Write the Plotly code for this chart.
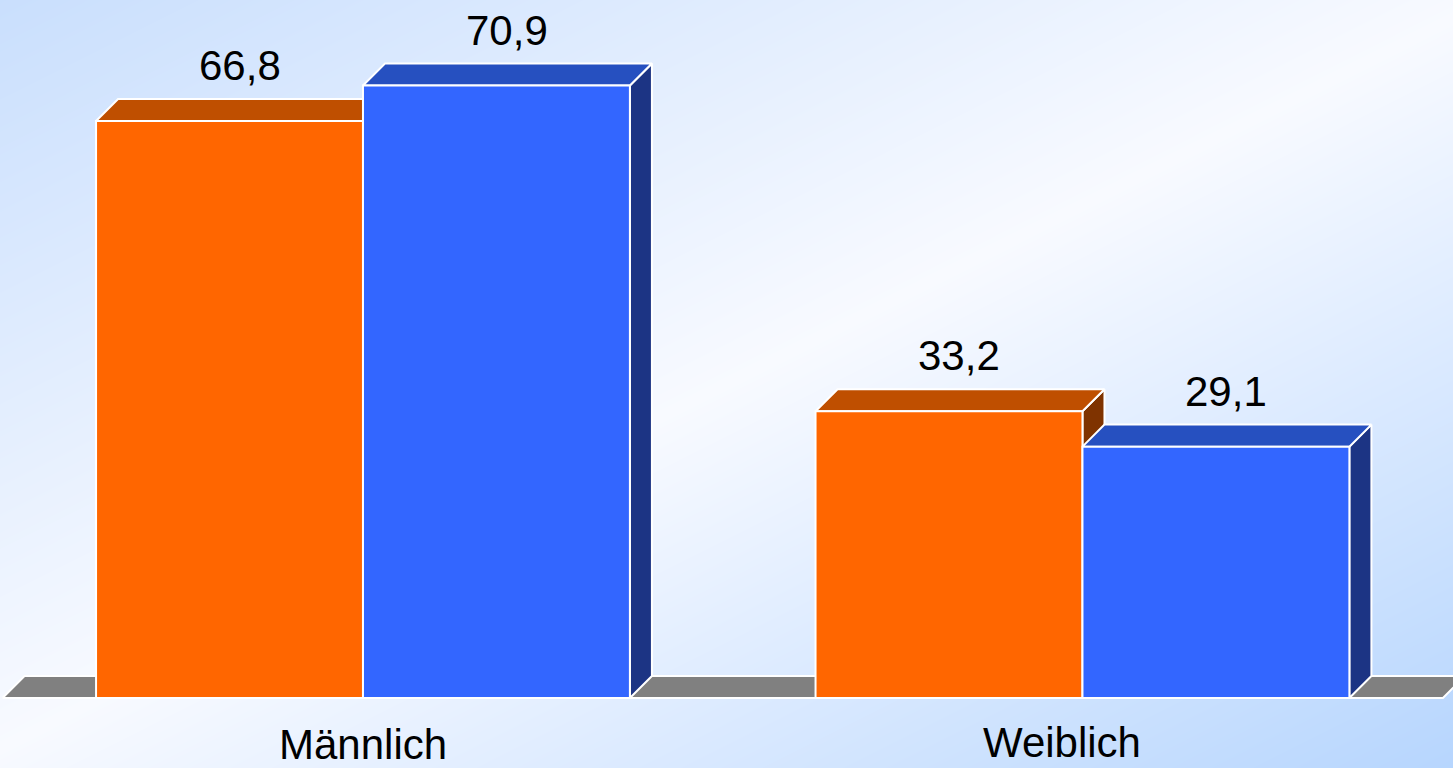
import plotly.graph_objects as go

# data
categories = ["Männlich", "Weiblich"]
series_names = ["Serie 1", "Serie 2"]
values_orange = [66.8, 33.2]
values_blue = [70.9, 29.1]

# style
W, H = 1453, 768
front_colors = ["#FF6600", "#3366FF"]
top_colors = ["#BF4F00", "#2650C0"]
side_colors = ["#7F3300", "#1C3484"]
floor_color = "#808080"
FONT = "Liberation Sans, Arial, sans-serif"

x_range = [-0.5045, 1.515]
y_range = [-8.1, 80.8]
bw = 0.371          # width of one bar (axis units)
dx, dy = 0.0306, 2.55   # 3d depth offsets
floor_pad = 0.13

xpos = list(range(len(categories)))

fig = go.Figure()


def face(xs, ys, color, name=None):
    fig.add_trace(go.Scatter(
        x=xs, y=ys, fill="toself", fillcolor=color, mode="lines",
        line=dict(color="white", width=2), hoverinfo="skip",
        showlegend=False, name=name,
    ))


# background gradient (top-left / bottom-right light blue, center white)
gx = [x_range[0] - 0.1, (x_range[0] + x_range[1]) / 2, x_range[1] + 0.1]
gy = [y_range[1] + 2, (y_range[0] + y_range[1]) / 2, y_range[0] - 2]
gz = [[-1, -0.5, 0], [-0.5, 0, 0.5], [0, 0.5, 1]]
fig.add_trace(go.Heatmap(
    x=gx, y=gy, z=gz, zsmooth="best", showscale=False, hoverinfo="skip",
    zmin=-1, zmax=1,
    colorscale=[[0, "#C6DDFD"], [0.5, "#F8FAFF"], [1, "#B2D3FE"]],
))

# floor
fl = xpos[0] - bw - floor_pad
fr = xpos[-1] + bw + floor_pad
face([fl, fl + dx, fr + dx, fr, fl], [0, dy, dy, 0, 0], floor_color)

# 3d bars: side, top, then front face
for i, x in enumerate(xpos):
    for s, vals in enumerate([values_orange, values_blue]):
        x0 = x - bw + s * bw
        x1 = x0 + bw
        v = vals[i]
        face([x1, x1 + dx, x1 + dx, x1, x1], [0, dy, v + dy, v, 0], side_colors[s])
        face([x0, x0 + dx, x1 + dx, x1, x0], [v, v + dy, v + dy, v, v], top_colors[s])
        face([x0, x0, x1, x1, x0], [0, v, v, 0, 0], front_colors[s], series_names[s])

# value labels
for s, vals in enumerate([values_orange, values_blue]):
    for i, x in enumerate(xpos):
        xc = x - bw / 2 + s * bw + 0.014
        fig.add_annotation(
            x=xc, y=vals[i] + dy, text=f"{vals[i]:.1f}".replace(".", ","),
            showarrow=False, yanchor="bottom", yshift=8,
            font=dict(family=FONT, size=42, color="black"),
        )

# category labels
label_shift = [0.0, -0.028]
label_y = [-5.35, -5.15]
for i, x in enumerate(xpos):
    fig.add_annotation(
        x=x + label_shift[i], y=label_y[i], text=categories[i], showarrow=False,
        yanchor="middle", font=dict(family=FONT, size=42, color="black"),
    )

fig.update_layout(
    width=W, height=H, margin=dict(l=0, r=0, t=0, b=0),
    paper_bgcolor="white", plot_bgcolor="white",
    showlegend=False,
    xaxis=dict(range=x_range, visible=False, fixedrange=True),
    yaxis=dict(range=y_range, visible=False, fixedrange=True),
)

fig.write_html("out.html", config={"displayModeBar": False},
               post_script="document.body.style.margin='0';")
